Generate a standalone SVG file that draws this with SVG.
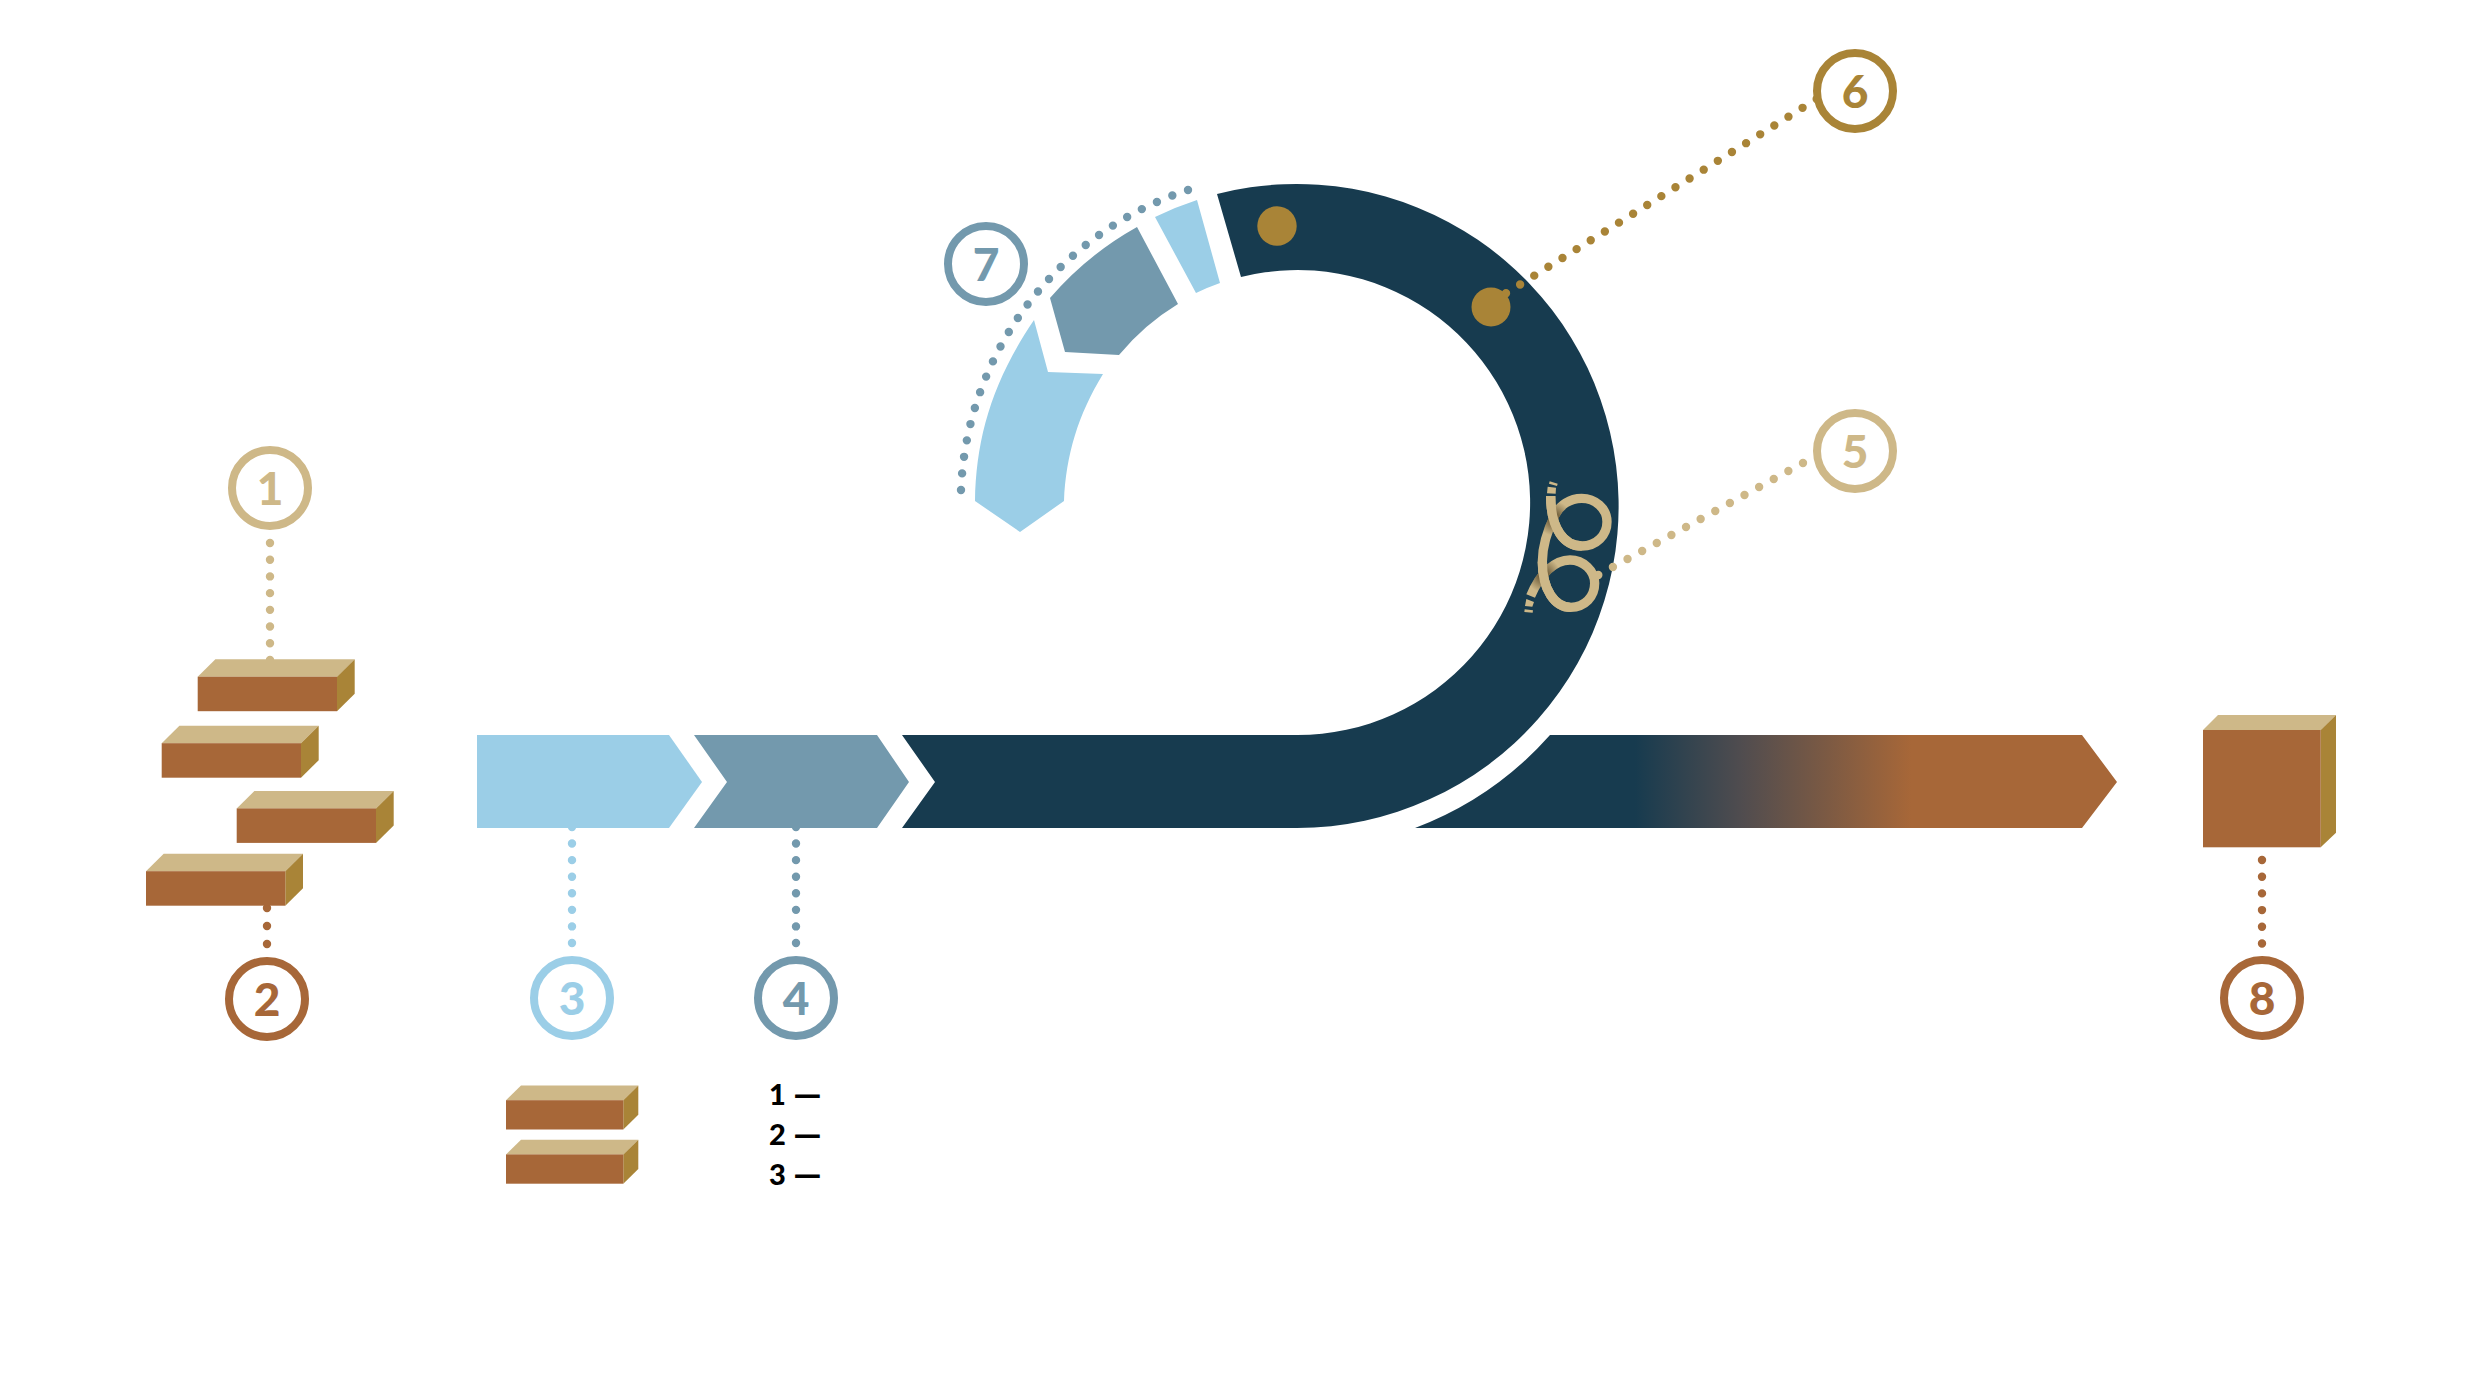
<svg xmlns="http://www.w3.org/2000/svg" width="2482" height="1388" viewBox="0 0 2482 1388">
<style>
.dk{fill:#173b4f}.lb{fill:#9bcee7}.mb{fill:#7399ad}
.num{font-family:"Lato","Open Sans","Liberation Sans",sans-serif;font-weight:900;font-size:46px;text-anchor:middle}
.ring{fill:#fff;stroke-width:8}
.dots{fill:none;stroke-width:8.4;stroke-linecap:round;stroke-dasharray:0 1}
.front{fill:#a76738}.top{fill:#ceb888}.side{fill:#a98437}
.leg{font-family:"Lato","Open Sans","Liberation Sans",sans-serif;font-weight:900;font-size:29px;fill:#000}
.c1{stroke:#ceb888}.c2{stroke:#a76738}.c3{stroke:#9bcee7}.c4{stroke:#7399ad}.c6{stroke:#a98437}
.t1{fill:#ceb888}.t2{fill:#a76738}.t3{fill:#9bcee7}.t4{fill:#7399ad}.t6{fill:#a98437}
.rope{fill:none;stroke-width:28}
</style>
<defs>
<linearGradient id="fade" gradientUnits="userSpaceOnUse" x1="1635" y1="0" x2="1911" y2="0">
<stop offset="0" stop-color="#173b4f"/><stop offset=".38" stop-color="#4f4c4f"/><stop offset="1" stop-color="#a76738"/>
</linearGradient>
<radialGradient id="shade-a" gradientUnits="userSpaceOnUse" cx="222" cy="235" r="52">
<stop offset=".3" stop-color="#4a3a1c" stop-opacity=".65"/><stop offset="1" stop-color="#4a3a1c" stop-opacity="0"/>
</radialGradient>
<radialGradient id="shade-b" gradientUnits="userSpaceOnUse" cx="190" cy="405" r="52">
<stop offset=".3" stop-color="#4a3a1c" stop-opacity=".65"/><stop offset="1" stop-color="#4a3a1c" stop-opacity="0"/>
</radialGradient>
<g id="brick"><path class="top" d="M0 17.5 17.7 0H157L139.3 17.5Z"/><path class="side" d="M139.3 17.5 157 0V34.5L139.3 52Z"/><rect class="front" y="17.5" width="139.3" height="34.5"/></g>
<g id="brick2"><path class="top" d="M0 14.7 15 0H132.3L117.3 14.7Z"/><path class="side" d="M117.3 14.7 132.3 0V29.3L117.3 44Z"/><rect class="front" y="14.7" width="117.3" height="29.3"/></g>
</defs>

<g id="connectors">
<line class="dots c1" x1="270" y1="543" x2="270" y2="660" pathLength="7.001"/>
<line class="dots c2" x1="267" y1="908" x2="267" y2="944" pathLength="2.001"/>
<line class="dots c3" x1="572" y1="827" x2="572" y2="943" pathLength="7.001"/>
<line class="dots c4" x1="796" y1="827" x2="796" y2="943" pathLength="7.001"/>
<line class="dots c2" x1="2262" y1="860" x2="2262" y2="943.5" pathLength="5.001"/>
<path class="dots c4" d="M1188 190A330 330 0 0 0 961 490" pathLength="24.001"/>
</g>

<g id="band-light"><path class="lb" d="M477 735H669L702 782 669 828H477Z"/></g>
<g id="band-mid"><path class="mb" d="M694 735H877L909 782 877 828H694L727 782Z"/></g>
<g id="band-dark"><path class="dk" d="M902 735H1297.5A232.5 232.5 0 1 0 1241 277L1217 194A322 322 0 1 1 1297 828H902L935 782Z"/></g>
<g id="band-out"><path fill="url(#fade)" d="M1550 735H2082L2117 782 2082 828H1415A342 342 0 0 0 1550 735Z"/></g>

<g id="arc-seg-1"><path class="lb" d="M1197 200A322 322 0 0 0 1155 217L1196 293A234 234 0 0 1 1220 283Z"/></g>
<g id="arc-seg-2"><path class="mb" d="M1137 227A322 322 0 0 0 1050 298L1065 352 1119 355A234 234 0 0 1 1178 304Z"/></g>
<g id="arc-seg-3"><path class="lb" d="M1034 320C992 382 976 438 975 501L1020 532 1064 501C1066 455 1078 415 1103 374L1048 372Z"/></g>

<g id="marker-6"><circle class="t6" cx="1277" cy="226" r="19.7"/><circle class="t6" cx="1491" cy="307" r="19.5"/></g>

<g id="knot-5" transform="translate(1480 440) scale(.33333)">
<path class="rope c1" d="M212 168C212 270 255 318 305 318 350 318 381 285 381 245 381 205 345 175 305 175 270 175 240 195 225 225 205 265 187 310 187 365 187 450 225 502 272 502 315 502 344 470 344 430 344 392 310 360 270 360 225 360 180 400 152 468"/>
<path class="rope" stroke="url(#shade-a)" d="M305 175C270 175 240 195 225 225 205 265 187 310 187 365"/>
<path class="rope" stroke="url(#shade-b)" d="M344 430C344 392 310 360 270 360 225 360 180 400 152 468"/>
<path class="rope c1" d="M212 168C212 270 255 318 305 318"/>
<path class="rope c1" d="M187 365C187 450 225 502 272 502"/>
<path class="t1" d="M209 124 233 131 231 138 207 131ZM203 140 228 143 227 161 201 160ZM139 477 162 486 157 500 135 498ZM134 508 159 511 158 518 133 516Z"/>
</g>

<g id="connectors-top">
<line class="dots c1" x1="1598.3" y1="575" x2="1803" y2="463" pathLength="14.001"/>
<line class="dots c6" x1="1506" y1="293.3" x2="1816.7" y2="99" pathLength="22.001"/>
</g>

<g id="node-1"><circle class="ring c1" cx="270" cy="488" r="38"/><text class="num t1" x="270" y="504.5">1</text></g>
<g id="node-2"><circle class="ring c2" cx="267" cy="999" r="38"/><text class="num t2" x="267" y="1015.5">2</text></g>
<g id="node-3"><circle class="ring c3" cx="572" cy="998" r="38"/><text class="num t3" x="572" y="1014.5">3</text></g>
<g id="node-4"><circle class="ring c4" cx="796" cy="998" r="38"/><text class="num t4" x="796" y="1014.5">4</text></g>
<g id="node-5"><circle class="ring c1" cx="1855" cy="451" r="38"/><text class="num t1" x="1855" y="467.5">5</text></g>
<g id="node-6"><circle class="ring c6" cx="1855" cy="91" r="38"/><text class="num t6" x="1855" y="107.5">6</text></g>
<g id="node-7"><circle class="ring c4" cx="986" cy="264" r="38"/><text class="num t4" x="986" y="280.5">7</text></g>
<g id="node-8"><circle class="ring c2" cx="2262" cy="998" r="38"/><text class="num t2" x="2262" y="1014.5">8</text></g>

<g id="bricks-source">
<use href="#brick" x="197.7" y="659.2"/>
<use href="#brick" x="161.7" y="725.7"/>
<use href="#brick" x="236.7" y="790.9"/>
<use href="#brick" x="146" y="853.7"/>
</g>
<g id="bricks-stack">
<use href="#brick2" x="506" y="1085.5"/>
<use href="#brick2" x="506" y="1139.7"/>
</g>
<g id="cube"><path class="top" d="M2203 730 2218 715H2336L2320.7 730Z"/><path class="side" d="M2320.7 730 2336 715V832.7L2320.7 847.3Z"/><rect class="front" x="2203" y="730" width="117.7" height="117.3"/></g>

<g id="legend">
<text class="leg" x="769" y="1105">1 <tspan x="793" y="1107" font-size="36">—</tspan></text>
<text class="leg" x="769" y="1145">2 <tspan x="793" y="1147" font-size="36">—</tspan></text>
<text class="leg" x="769" y="1185">3 <tspan x="793" y="1187" font-size="36">—</tspan></text>
</g>
</svg>
